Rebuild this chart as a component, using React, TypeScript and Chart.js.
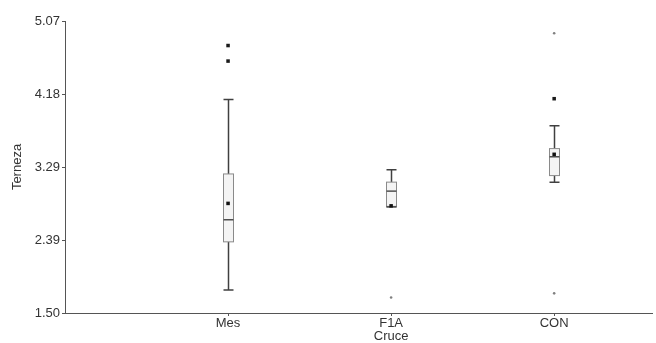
import { useEffect, useRef } from 'react';
import { Chart, registerables } from 'chart.js';

Chart.register(...registerables);

const categories = ['Mes', 'F1A', 'CON'];
const whiskerLow = [1.78, 2.80, 3.10];
const q1Values = [2.37, 2.80, 3.18];
const medianValues = [2.64, 2.99, 3.41];
const q3Values = [3.20, 3.10, 3.51];
const whiskerHigh = [4.11, 3.25, 3.79];
const meanValues = [2.84, 2.81, 3.44];
// outliers: [category index (1-based), value]
const nearOutliers: [number, number][] = [[1, 4.77], [1, 4.58], [3, 4.12]];
const farOutliers: [number, number][] = [[2, 1.69], [3, 4.92], [3, 1.74]];
const yTickValues = [1.5, 2.3925, 3.285, 4.1775, 5.07];
const yTickLabels = ['1.50', '2.39', '3.29', '4.18', '5.07'];
const xTitle = 'Cruce';
const yTitle = 'Terneza';

export default function App() {
  const ref = useRef<HTMLCanvasElement>(null);
  useEffect(() => {
    document.body.style.margin = '0';
    if (!ref.current) return;
    const fontFamily = '"Liberation Sans", Arial, sans-serif';
    const boxPlugin = {
      id: 'boxes',
      beforeDatasetsDraw(chart: any) {
        const { ctx } = chart;
        const x = chart.scales.x;
        const y = chart.scales.y;
        ctx.save();
        categories.forEach((_, i) => {
          const cx = Math.round(x.getPixelForValue(i + 1)) + 0.5;
          const hw = 5;
          const yMin = y.getPixelForValue(whiskerLow[i]);
          const yQ1 = y.getPixelForValue(q1Values[i]);
          const yMed = y.getPixelForValue(medianValues[i]);
          const yQ3 = y.getPixelForValue(q3Values[i]);
          const yMax = y.getPixelForValue(whiskerHigh[i]);
          ctx.strokeStyle = '#404040';
          ctx.lineWidth = 1.5;
          ctx.beginPath();
          ctx.moveTo(cx, yQ3);
          ctx.lineTo(cx, yMax);
          ctx.moveTo(cx, yQ1);
          ctx.lineTo(cx, yMin);
          ctx.moveTo(cx - hw, yMax);
          ctx.lineTo(cx + hw, yMax);
          ctx.moveTo(cx - hw, yMin);
          ctx.lineTo(cx + hw, yMin);
          ctx.stroke();
          ctx.fillStyle = '#f4f4f4';
          ctx.fillRect(cx - hw, yQ3, hw * 2, yQ1 - yQ3);
          ctx.strokeStyle = '#8a8a8a';
          ctx.lineWidth = 1;
          ctx.strokeRect(cx - hw, yQ3, hw * 2, yQ1 - yQ3);
          ctx.strokeStyle = '#505050';
          ctx.lineWidth = 1.5;
          ctx.beginPath();
          ctx.moveTo(cx - hw, yMed);
          ctx.lineTo(cx + hw, yMed);
          ctx.stroke();
          if (Math.abs(yMin - yQ1) < 1) {
            ctx.beginPath();
            ctx.moveTo(cx - hw, yMin);
            ctx.lineTo(cx + hw, yMin);
            ctx.stroke();
          }
        });
        ctx.restore();
      },
      afterDraw(chart: any) {
        const { ctx } = chart;
        const x = chart.scales.x;
        ctx.save();
        ctx.fillStyle = '#333';
        ctx.font = `13px ${fontFamily}`;
        ctx.textAlign = 'center';
        ctx.textBaseline = 'middle';
        ctx.fillText(xTitle, x.getPixelForValue(2), 336);
        ctx.restore();
      },
    };

    const font = { family: fontFamily, size: 13 };
    const chart = new Chart(ref.current, {
      type: 'scatter',
      data: {
        datasets: [
          {
            label: 'Media',
            data: meanValues.map((v, i) => ({ x: i + 1, y: v })),
            pointStyle: 'rect',
            pointRadius: 2.5,
            backgroundColor: '#111',
            borderColor: '#111',
            borderWidth: 0,
          },
          {
            label: 'Outliers',
            data: nearOutliers.map(([c, v]) => ({ x: c, y: v })),
            pointStyle: 'rect',
            pointRadius: 2.5,
            backgroundColor: '#1a1a1a',
            borderColor: '#1a1a1a',
            borderWidth: 0,
          },
          {
            label: 'Extremos',
            data: farOutliers.map(([c, v]) => ({ x: c, y: v })),
            pointStyle: 'circle',
            pointRadius: 1.3,
            backgroundColor: '#808080',
            borderColor: '#808080',
            borderWidth: 0,
          },
        ],
      },
      options: {
        responsive: false,
        animation: false,
        layout: { padding: { top: 21, right: 4, left: 0, bottom: 0 } },
        plugins: { legend: { display: false }, tooltip: { enabled: false } },
        scales: {
          x: {
            type: 'linear',
            min: 0,
            max: 3.6,
            afterBuildTicks: (s: any) => {
              s.ticks = categories.map((_, i) => ({ value: i + 1 }));
            },
            afterFit: (s: any) => {
              s.height = 30;
            },
            ticks: {
              callback: (_v: any, i: number) => categories[i],
              color: '#333',
              font,
              padding: 0,
              maxRotation: 0,
            },
            grid: { drawOnChartArea: false, tickLength: 3, color: '#555' },
            border: { color: '#555', width: 1 },
            title: { display: false },
          },
          y: {
            type: 'linear',
            min: 1.5,
            max: 5.07,
            afterBuildTicks: (s: any) => {
              s.ticks = yTickValues.map((v) => ({ value: v }));
            },
            afterFit: (s: any) => {
              s.width = 65;
            },
            ticks: {
              callback: (_v: any, i: number) => yTickLabels[i],
              color: '#333',
              font,
              padding: 2,
            },
            grid: { drawOnChartArea: false, tickLength: 3, color: '#555' },
            border: { color: '#555', width: 1 },
            title: { display: true, text: yTitle, color: '#333', font, padding: { top: 10, bottom: 0 } },
          },
        },
      },
      plugins: [boxPlugin],
    });
    return () => chart.destroy();
  }, []);
  return <canvas ref={ref} width={656} height={343} style={{ display: 'block' }} />;
}
